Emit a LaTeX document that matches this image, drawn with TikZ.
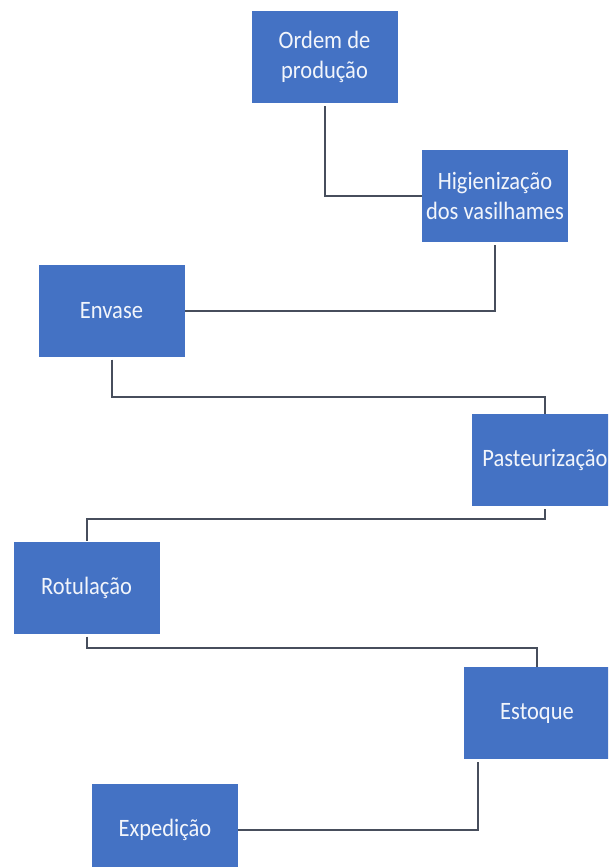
\documentclass[tikz,border=0pt]{standalone}
\usepackage{fontspec}
\setmainfont{Carlito}[FakeStretch=0.9]
\usepackage{xcolor}
\usepackage{tikz}
\usetikzlibrary{positioning, calc}
\definecolor{boxblue}{HTML}{4472C4}
\definecolor{boxtext}{HTML}{F2F5FB}
\definecolor{linkgray}{HTML}{474E5C}
\tikzset{
  stepbox/.style={fill=boxblue, draw=none, text=boxtext, font=\fontsize{25}{30}\selectfont,
                  align=center, minimum width=146pt, minimum height=92pt, inner sep=2pt},
  link/.style={draw=linkgray, line width=2pt, shorten <=3pt},
}

\begin{document}
\begin{tikzpicture}[x=1pt, y=-1pt]
  \useasboundingbox (0,0) rectangle (608,867);
  \clip (0,0) rectangle (608,867);
  \foreach \i/\x/\y/\t in {1/324.5/57/{Ordem de\\produção}, 2/495/196/{Higienização\\dos vasilhames}, 3/111.5/310.5/Envase, 4/545/460/Pasteurização, 5/86.5/587.5/Rotulação, 6/537/713/Estoque, 7/165/829.5/Expedição} {
    \node[stepbox] (b\i) at (\x,\y) {\t};
  }
  \draw[link] (b1.south) |- (b2.west);
  \draw[link] (b2.south) |- (b3.east);
  \draw[link] (b3.south) -- ++(0,40) -| (b4.north);
  \draw[link] (b4.south) -- ++(0,13) -| (b5.north);
  \draw[link] (b5.south) -- ++(0,14) -| (b6.north);
  \draw[link] ([xshift=14pt]b6.south west) |- (b7.east);
\end{tikzpicture}
\end{document}
